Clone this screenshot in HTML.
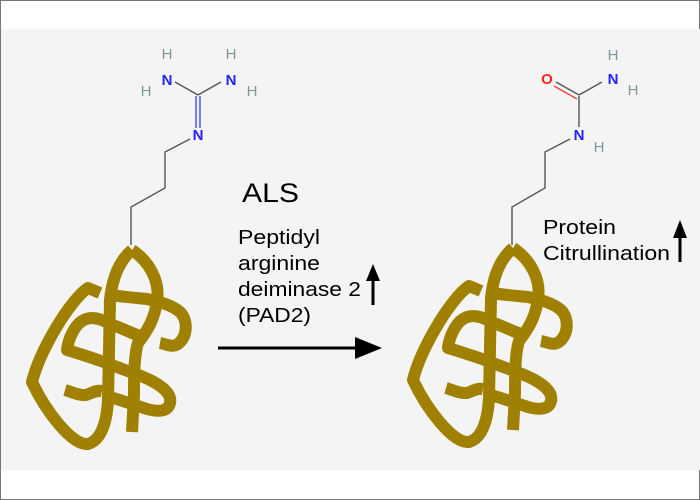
<!DOCTYPE html>
<html><head><meta charset="utf-8"><style>
html,body{margin:0;padding:0;background:#fff}
svg{display:block}
text{font-family:"Liberation Sans",sans-serif}
</style></head><body>
<svg width="700" height="500" viewBox="0 0 700 500" xmlns="http://www.w3.org/2000/svg">
<rect x="0.5" y="0.5" width="699" height="499" fill="#fff" stroke="#777"/>
<rect x="1" y="29" width="699" height="441" fill="#f4f4f4"/>
<defs>
<g id="blob" fill="none" stroke="#a08000" stroke-width="12" stroke-linecap="butt" stroke-linejoin="round">
<path d="M132 250 C150 262 160 282 157 300 C155 318 148 330 138 343 C134 355 134 380 134 395 L132 432"/>
<path d="M132 250 C118 262 112 280 110 300 L108 400 C107 420 102 440 88 444 C72 446 45 410 32 382 C40 350 70 300 88 288 L100 293"/>
<path d="M110 295 C125 297 137 298 147 299 C160 302 172 305 180 312 C188 320 188 336 178 344 C172 348 166 344 160 343"/>
<path d="M143 337 C130 333 120 327 110 324 C100 318 90 316 82 321 C74 326 68 340 67 350 C80 354 100 360 117 367 C130 372 140 375 150 380 C162 386 172 394 170 403 C168 412 158 412 147 409 C135 405 120 400 110 397"/>
<path d="M65 390 C72 392 80 396 86 395 C92 393 96 390 102 391"/>
</g>
</defs>
<use href="#blob"/>
<use href="#blob" transform="translate(381,-2)"/>
<!-- left molecule -->
<g stroke-width="1.4" fill="none">
<polyline points="131,245 131,207 165,188 165,152 190,139" stroke="#555"/>
<line x1="196" y1="128" x2="196" y2="96" stroke="#44f"/>
<line x1="200" y1="128" x2="200" y2="96" stroke="#44f"/>
<line x1="198" y1="95" x2="175" y2="82" stroke="#555"/>
<line x1="198" y1="95" x2="221" y2="82" stroke="#555"/>
</g>
<g font-weight="bold" font-size="15" text-anchor="middle">
<text x="198" y="140" fill="#22f">N</text>
<text x="167" y="85" fill="#22f">N</text>
<text x="231" y="85" fill="#22f">N</text>
<text x="167" y="59" fill="#7a9a9a" font-weight="normal">H</text>
<text x="146" y="96" fill="#7a9a9a" font-weight="normal">H</text>
<text x="231" y="59" fill="#7a9a9a" font-weight="normal">H</text>
<text x="252" y="96" fill="#7a9a9a" font-weight="normal">H</text>
</g>
<!-- right molecule -->
<g stroke-width="1.4" fill="none">
<polyline points="512,245 512,207 545,188 545,152 570,139" stroke="#555"/>
<line x1="579" y1="127" x2="579" y2="96" stroke="#555"/>
<line x1="579" y1="95" x2="602" y2="82" stroke="#555"/>
<line x1="579" y1="95" x2="556" y2="82" stroke="#555"/>
<line x1="577" y1="99" x2="554" y2="86" stroke="#e44"/>
</g>
<g font-weight="bold" font-size="15" text-anchor="middle">
<text x="579" y="140" fill="#22f">N</text>
<text x="613" y="84" fill="#22f">N</text>
<text x="547" y="84" fill="#f22">O</text>
<text x="599" y="152" fill="#7a9a9a" font-weight="normal">H</text>
<text x="613" y="60" fill="#7a9a9a" font-weight="normal">H</text>
<text x="633" y="95" fill="#7a9a9a" font-weight="normal">H</text>
</g>
<!-- texts -->
<text x="242" y="202" font-size="27" textLength="57" lengthAdjust="spacingAndGlyphs">ALS</text>
<g font-size="20" lengthAdjust="spacingAndGlyphs">
<text x="238" y="244" textLength="82" lengthAdjust="spacingAndGlyphs">Peptidyl</text>
<text x="238" y="270" textLength="82" lengthAdjust="spacingAndGlyphs">arginine</text>
<text x="238" y="296" textLength="123" lengthAdjust="spacingAndGlyphs">deiminase 2</text>
<text x="238" y="322" textLength="73" lengthAdjust="spacingAndGlyphs">(PAD2)</text>
<text x="543" y="234" textLength="73" lengthAdjust="spacingAndGlyphs">Protein</text>
<text x="543" y="260" textLength="127" lengthAdjust="spacingAndGlyphs">Citrullination</text>
</g>
<!-- arrows -->
<line x1="373" y1="305" x2="373" y2="278" stroke="#000" stroke-width="3"/>
<polygon points="373,264 366,281 380,281" fill="#000"/>
<line x1="680" y1="262" x2="680" y2="235" stroke="#000" stroke-width="3"/>
<polygon points="680,220 673,238 687,238" fill="#000"/>
<line x1="218" y1="348" x2="360" y2="348" stroke="#000" stroke-width="3"/>
<polygon points="382,348 355,337 355,359" fill="#000"/>
</svg>
</body></html>
